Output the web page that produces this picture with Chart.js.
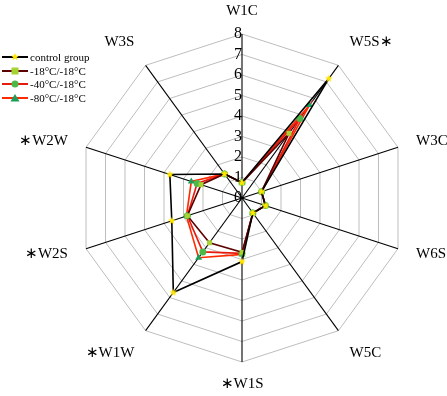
<!DOCTYPE html>
<html>
<head>
<meta charset="UTF-8">
<title>Radar</title>
<script src="https://cdn.jsdelivr.net/npm/chart.js"></script>
<style>
  html, body { margin: 0; padding: 0; background: #fff; }
  #wrap { width: 447px; height: 396px; position: relative; }
</style>
</head>
<body>
<div id="wrap"><canvas id="radar"></canvas></div>
<script>
// dados
const categorias = ['W1C', 'W5S\u2217', 'W3C', 'W6S', 'W5C', '\u2217W1S', '\u2217W1W', '\u2217W2S', '\u2217W2W', 'W3S'];
const controle = [0.75, 7.2, 1.0, 1.2, 0.9, 3.1, 5.7, 3.6, 3.7, 1.45];
const menos18 = [0.75, 3.9, 1.0, 1.2, 0.9, 2.65, 2.7, 2.8, 2.1, 1.45];
const menos40 = [0.75, 4.8, 1.0, 1.2, 0.9, 2.7, 3.25, 2.8, 2.3, 1.45];
const menos80 = [0.75, 5.6, 1.0, 1.2, 0.9, 2.75, 3.6, 2.85, 2.6, 1.45];
const nomes = ['control group', '-18\u00b0C/-18\u00b0C', '-40\u00b0C/-18\u00b0C', '-80\u00b0C/-18\u00b0C'];
const ticksR = [0, 1, 2, 3, 4, 5, 6, 7, 8];

const serif = '"Liberation Serif", "Times New Roman", serif';

// estrela amarela para o grupo controle
function criarEstrela(r) {
    const c = document.createElement('canvas');
    c.width = r * 2 + 2; c.height = r * 2 + 2;
    const g = c.getContext('2d');
    g.fillStyle = '#ffe600';
    g.beginPath();
    for (let i = 0; i < 10; i++) {
        const rr = i % 2 === 0 ? r : r * 0.45;
        const a = -Math.PI / 2 + i * Math.PI / 5;
        const x = r + 1 + rr * Math.cos(a), y = r + 1 + rr * Math.sin(a);
        if (i === 0) g.moveTo(x, y); else g.lineTo(x, y);
    }
    g.closePath();
    g.fill();
    return c;
}
const estrela = criarEstrela(4);

const estilos = [
    { cor: '#000000', marca: estrela, fundo: '#ffe600', raio: 4 },
    { cor: '#5c0000', marca: 'rect', fundo: '#a6d232', raio: 3.5 },
    { cor: '#e81a0c', marca: 'circle', fundo: '#4cb848', raio: 3.5 },
    { cor: '#ff2a00', marca: 'triangle', fundo: '#1c9e5a', raio: 4 }
];
const series = [controle, menos18, menos40, menos80];

const datasets = series.map((d, i) => ({
    label: nomes[i],
    data: d,
    fill: false,
    borderColor: estilos[i].cor,
    borderWidth: 1.6,
    pointStyle: estilos[i].marca,
    pointRadius: estilos[i].raio,
    pointBackgroundColor: estilos[i].fundo,
    pointBorderColor: estilos[i].fundo,
    pointBorderWidth: 0,
    tension: 0
}));

// legenda desenhada no canto superior esquerdo
const legendaPlugin = {
    id: 'legenda',
    afterDraw(chart) {
        const ctx = chart.ctx;
        ctx.save();
        ctx.font = '11px ' + serif;
        ctx.textBaseline = 'middle';
        const ys = [57, 71, 84, 98];
        nomes.forEach((n, i) => {
            const y = ys[i];
            ctx.strokeStyle = estilos[i].cor;
            ctx.lineWidth = 2;
            ctx.beginPath();
            ctx.moveTo(2, y);
            ctx.lineTo(28, y);
            ctx.stroke();
            const m = estilos[i].marca;
            ctx.fillStyle = estilos[i].fundo;
            if (m === 'rect') {
                ctx.fillRect(11.5, y - 3.5, 7, 7);
            } else if (m === 'circle') {
                ctx.beginPath(); ctx.arc(15, y, 3.5, 0, Math.PI * 2); ctx.fill();
            } else if (m === 'triangle') {
                ctx.beginPath(); ctx.moveTo(15, y - 4); ctx.lineTo(19.5, y + 3.5); ctx.lineTo(10.5, y + 3.5); ctx.closePath(); ctx.fill();
            } else {
                ctx.drawImage(m, 15 - m.width / 2, y - m.height / 2);
            }
            ctx.fillStyle = '#000';
            ctx.fillText(n, 30, y + 1);
        });
        ctx.restore();
    }
};

// rótulos dos eixos posicionados como no Excel
const rotulosPlugin = {
    id: 'rotulos',
    afterDraw(chart) {
        const scale = chart.scales.r;
        const ctx = chart.ctx;
        ctx.save();
        ctx.font = '15px ' + serif;
        ctx.fillStyle = '#000';
        categorias.forEach((txt, i) => {
            const ang = i * 360 / categorias.length;
            const vertical = (ang === 0 || ang === 180);
            const p = scale.getPointPosition(i, scale.drawingArea + (vertical ? 15 : 19));
            const c = Math.cos(ang * Math.PI / 180);
            ctx.textAlign = vertical ? 'center' : (ang < 180 ? 'left' : 'right');
            ctx.textBaseline = Math.abs(c) < 0.5 ? 'middle' : (c > 0 ? 'bottom' : 'top');
            ctx.fillText(txt, p.x, p.y);
        });
        ctx.restore();
    }
};

new Chart(document.getElementById('radar'), {
    type: 'radar',
    data: { labels: categorias, datasets: datasets },
    options: {
        responsive: true,
        maintainAspectRatio: false,
        animation: false,
        plugins: {
            legend: { display: false },
            tooltip: { enabled: false }
        },
        scales: {
            r: {
                min: -0.001,
                max: 8,
                afterBuildTicks(scale) {
                    scale.ticks = ticksR.map(v => ({ value: v }));
                },
                afterFit(scale) {
                    scale.xCenter = 242;
                    scale.yCenter = 198;
                    scale.drawingArea = 164;
                },
                ticks: {
                    stepSize: 1,
                    showLabelBackdrop: false,
                    color: '#000',
                    font: { family: serif, size: 16 },
                    callback: v => v + '  '
                },
                grid: { color: '#bdbdbd', lineWidth: 1 },
                angleLines: { color: '#000', lineWidth: 1.1 },
                pointLabels: { display: false }
            }
        }
    },
    plugins: [legendaPlugin, rotulosPlugin]
});
</script>
</body>
</html>
